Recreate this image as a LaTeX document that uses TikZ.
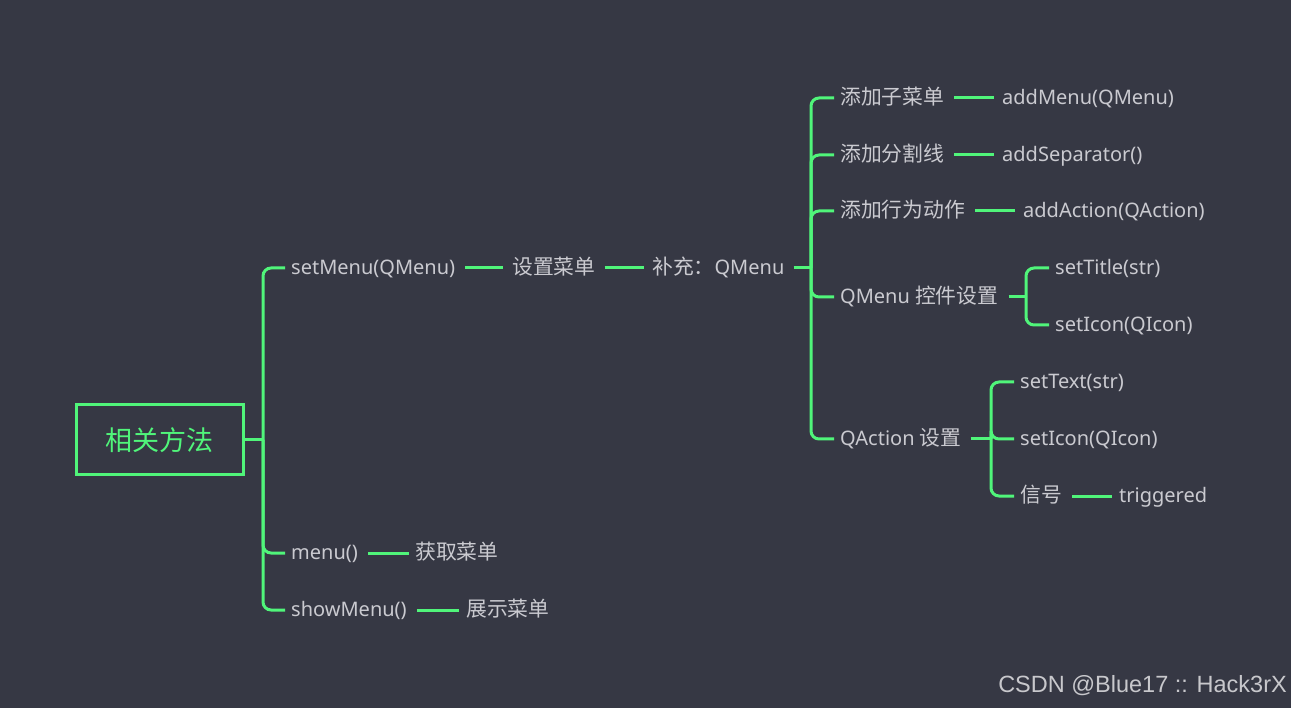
\documentclass[tikz,border=0pt]{standalone}
\usepackage{fontspec}
\setmainfont{Noto Sans}
\newfontfamily\cjk[Scale=1.04]{Noto Sans CJK SC}
\newfontfamily\wm{Liberation Sans}
\definecolor{bg}{RGB}{54,56,68}
\definecolor{grn}{RGB}{80,245,122}
\definecolor{txt}{RGB}{202,202,208}
\definecolor{wmgray}{RGB}{200,200,204}
\begin{document}
\begin{tikzpicture}[x=1pt,y=-1pt,
  item/.style={anchor=west, inner sep=0pt, text=txt, font=\fontsize{20}{24}\selectfont, text height=17pt, text depth=4pt},
  ln/.style={draw=grn, line width=3pt},
  br/.style={ln, rounded corners=8pt}]
\useasboundingbox[fill=bg] (0,0) rectangle (1291,708);

\node[draw=grn, line width=3pt, minimum width=167pt, minimum height=70pt, inner sep=0pt, text=grn, font=\cjk\fontsize{26}{30}\selectfont] (root) at (159.5,440) {相关方法};

\node[item] (setmenu) at (291,268) {setMenu(QMenu)};
\node[item] (shezhi) at (512,268) {\cjk 设置菜单};
\node[item] (buchong) at (652,268) {{\cjk 补充：}QMenu};
\node[item] (zicaidan) at (840,98) {\cjk 添加子菜单};
\node[item] (addmenu) at (1002,98) {addMenu(QMenu)};
\node[item] (fenge) at (840,155) {\cjk 添加分割线};
\node[item] (addsep) at (1002,155) {addSeparator()};
\node[item] (xingwei) at (840,211) {\cjk 添加行为动作};
\node[item] (addact) at (1023,211) {addAction(QAction)};
\node[item] (qmenuset) at (840,297) {QMenu {\cjk 控件设置}};
\node[item] (settitle) at (1055,268) {setTitle(str)};
\node[item] (seticon1) at (1055,325) {setIcon(QIcon)};
\node[item] (qactset) at (840,439) {QAction {\cjk 设置}};
\node[item] (settext) at (1020,382) {setText(str)};
\node[item] (seticon2) at (1020,439) {setIcon(QIcon)};
\node[item] (xinhao) at (1020,496) {\cjk 信号};
\node[item] (trig) at (1119,496) {triggered};
\node[item] (menu) at (291,553) {menu()};
\node[item] (huoqu) at (415,553) {\cjk 获取菜单};
\node[item] (showmenu) at (291,610) {showMenu()};
\node[item] (zhanshi) at (466,610) {\cjk 展示菜单};

\node[anchor=east, inner sep=0pt, text=wmgray, font=\wm\fontsize{23.5}{28}\selectfont] (wm) at (1287,686) {CSDN @Blue17 :: Hack3rX};

% root bus
\coordinate (b0) at (263,440);
\draw[ln] (root.east) -- (b0);
\foreach \c in {setmenu,menu,showmenu} \draw[br] (b0) |- ([xshift=-6pt]\c.west);

% straight links
\draw[ln] ([xshift=10pt]setmenu.east) -- ([xshift=-9pt]shezhi.west);
\draw[ln] ([xshift=9pt]shezhi.east) -- ([xshift=-8pt]buchong.west);
\draw[ln] ([xshift=10pt]zicaidan.east) -- ([xshift=-8pt]addmenu.west);
\draw[ln] ([xshift=10pt]fenge.east) -- ([xshift=-8pt]addsep.west);
\draw[ln] ([xshift=10pt]xingwei.east) -- ([xshift=-8pt]addact.west);
\draw[ln] ([xshift=10pt]xinhao.east) -- ([xshift=-7pt]trig.west);
\draw[ln] ([xshift=10pt]menu.east) -- ([xshift=-6pt]huoqu.west);
\draw[ln] ([xshift=10pt]showmenu.east) -- ([xshift=-7pt]zhanshi.west);

% buchong bus
\coordinate (b1) at (811,268);
\draw[ln] ([xshift=9pt]buchong.east) -- (b1);
\foreach \c in {zicaidan,fenge,xingwei,qmenuset,qactset} \draw[br] (b1) |- ([xshift=-6pt]\c.west);

% qmenu bus
\coordinate (b2) at (1026,297);
\draw[ln] ([xshift=10pt]qmenuset.east) -- (b2);
\foreach \c in {settitle,seticon1} \draw[br] (b2) |- ([xshift=-6pt]\c.west);

% qaction bus
\coordinate (b3) at (991,439);
\draw[ln] ([xshift=9pt]qactset.east) -- (b3);
\foreach \c in {settext,seticon2,xinhao} \draw[br] (b3) |- ([xshift=-6pt]\c.west);
\end{tikzpicture}
\end{document}
